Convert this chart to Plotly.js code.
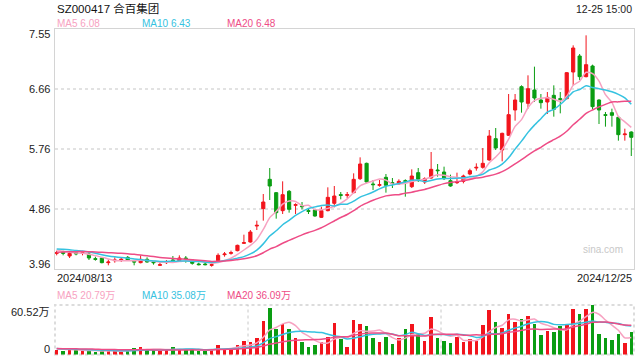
<!DOCTYPE html>
<html>
<head>
<meta charset="utf-8">
<script src="https://cdn.plot.ly/plotly-3.0.1.min.js"></script>
<style>html,body{margin:0;padding:0;background:#fff;}#chart{width:640px;height:360px;}</style>
</head>
<body>
<div id="chart"></div>
<script>
// ---- data ----
const titleText = "SZ000417 合百集团";
const timeText = "12-25 15:00";
const startDate = "2024/08/13";
const endDate = "2024/12/25";

const open = [4.19,4.21,4.15,4.22,4.19,4.18,4.11,4.12,4.05,4.08,
4.09,4.13,4.07,4.05,4.10,4.06,4.01,4.05,4.09,4.08,
4.12,4.09,4.03,4.03,4.01,4.08,4.17,4.19,4.23,4.34,
4.36,4.60,4.86,5.30,5.10,4.83,5.12,4.91,4.90,4.83,
4.84,4.73,4.83,4.94,5.07,5.06,5.10,5.31,5.54,5.23,
5.21,5.33,5.25,5.23,5.28,5.19,5.40,5.26,5.32,5.44,
5.41,5.28,5.25,5.27,5.38,5.47,5.48,5.59,5.91,5.74,
5.96,6.34,6.69,6.44,6.64,6.49,6.46,6.56,6.51,6.51,
6.91,7.15,6.84,7.00,6.49,6.27,6.30,6.23,5.97,6.01];
const high = [4.23,4.23,4.21,4.24,4.22,4.21,4.14,4.13,4.10,4.13,
4.13,4.15,4.08,4.16,4.13,4.07,4.05,4.09,4.15,4.16,
4.15,4.10,4.05,4.05,4.05,4.19,4.21,4.23,4.32,4.47,
4.54,4.68,5.08,5.47,5.11,5.27,5.14,4.94,4.96,4.87,
4.85,4.89,5.18,5.20,5.11,5.11,5.39,5.63,5.55,5.29,
5.29,5.38,5.32,5.30,5.30,5.45,5.47,5.33,5.71,5.53,
5.49,5.37,5.40,5.37,5.46,5.54,5.77,6.04,6.07,6.00,
6.58,6.58,6.71,6.86,6.99,6.58,6.61,6.71,6.61,6.91,
7.31,7.18,7.46,7.02,6.50,6.31,6.36,6.24,6.06,6.02];
const low = [4.16,4.16,4.12,4.16,4.16,4.09,4.08,4.04,4.01,4.05,
4.06,4.08,4.01,4.04,4.05,4.02,4.00,4.03,4.06,4.07,
4.05,4.02,4.01,4.01,3.99,4.07,4.14,4.17,4.22,4.33,
4.35,4.54,4.68,4.99,4.71,4.78,4.80,4.78,4.85,4.78,
4.74,4.72,4.82,4.88,5.00,5.02,5.09,5.29,5.24,5.14,
5.19,5.10,5.17,5.22,5.04,5.17,5.26,5.23,5.31,5.34,
5.29,5.19,5.23,5.24,5.36,5.43,5.46,5.58,5.74,5.57,
5.95,6.18,6.30,6.36,6.46,6.36,6.28,6.24,6.29,6.50,
6.71,6.79,6.83,6.35,6.13,6.09,6.09,5.88,5.88,5.65];
const close = [4.20,4.19,4.19,4.18,4.20,4.12,4.10,4.05,4.06,4.09,
4.10,4.09,4.06,4.10,4.06,4.05,4.02,4.06,4.08,4.12,
4.11,4.04,4.02,4.02,4.02,4.16,4.18,4.20,4.31,4.35,
4.51,4.61,4.96,5.20,4.80,5.07,4.85,4.92,4.89,4.82,
4.75,4.83,5.03,5.05,5.06,5.07,5.30,5.53,5.26,5.22,
5.22,5.21,5.24,5.27,5.27,5.35,5.30,5.31,5.45,5.43,
5.31,5.20,5.26,5.35,5.43,5.48,5.54,5.95,5.77,5.99,
6.27,6.49,6.46,6.66,6.52,6.45,6.53,6.35,6.50,6.90,
7.27,6.84,7.02,6.39,6.34,6.26,6.26,5.97,5.98,5.93];
// volume, in 万 shares
const volume = [6.1,4.1,6.1,4.9,4.1,5.8,2.8,4.5,4.9,4.5,
3.3,5.3,8.2,9.0,5.8,5.8,4.5,6.1,9.0,6.5,
6.1,6.1,4.5,4.5,7.0,11.4,7.0,7.4,11.9,16.3,
15.1,20.5,41.4,56.8,31.1,37.2,31.1,20.5,15.1,8.6,
11.4,14.7,20.9,38.7,18.8,9.0,42.1,37.2,34.7,20.0,
15.1,21.2,12.6,20.0,31.1,37.2,25.4,16.3,45.8,20.0,
16.3,13.9,21.2,15.1,18.8,16.3,36.0,54.4,39.7,32.3,
49.5,39.7,43.3,47.0,37.2,23.7,28.6,27.4,34.7,36.0,
55.6,49.5,55.6,60.52,24.9,20.5,17.6,24.5,13.9,27.0];
// sessions before the visible window (estimated from the MA lines' starting levels)
const prevClose = [4.12,4.15,4.14,4.17,4.16,4.18,4.15,4.17,4.19,4.18,4.22,4.26,4.30,4.28,4.27,4.29,4.26,4.24,4.22];
const prevVolume = [7.5,6.8,8.2,7.0,6.4,7.8,9.1,6.9,7.2,6.0,8.5,7.3,6.6,7.9,8.8,6.2,7.1,6.7,7.4];

const maPeriods = [5, 10, 20];
const maNames = ["MA5", "MA10", "MA20"];
const maPriceLabels = ["6.08", "6.43", "6.48"];
const maVolLabels = ["20.79万", "35.08万", "36.09万"];
const priceTickVals = [7.555, 6.655, 5.755, 4.855, 3.955];
const priceTickText = ["7.55", "6.66", "5.76", "4.86", "3.96"];
const volTickVals = [60.52, 0];
const volTickText = ["60.52万", "0"];
const watermark = "sina.com";

// ---- styles ----
const RED = "#f2141c", GREEN = "#0a9d12";
const MA_COLORS = ["#f7a2c1", "#35c2e0", "#ee4c86"];
const FONT = "Liberation Sans, Arial, Noto Sans CJK SC, sans-serif";

function movingAvg(series, prev, n) {
  const all = prev.concat(series);
  return series.map((_, i) => {
    const end = prev.length + i;
    let s = 0;
    for (let k = end - n + 1; k <= end; k++) s += all[k];
    return s / n;
  });
}

const idx = close.map((_, i) => i);
const volColors = close.map((c, i) => (c > open[i] ? RED : GREEN));
const xr = [-0.26, 89.42];

const traces = [];
traces.push({
  type: "candlestick", x: idx, open: open, high: high, low: low, close: close,
  xaxis: "x", yaxis: "y", whiskerwidth: 0, hoverinfo: "skip",
  increasing: {line: {color: RED, width: 1}, fillcolor: RED},
  decreasing: {line: {color: GREEN, width: 1}, fillcolor: GREEN}
});
maPeriods.forEach((p, k) => {
  traces.push({type: "scatter", mode: "lines", x: idx, y: movingAvg(close, prevClose, p),
    xaxis: "x", yaxis: "y", line: {color: MA_COLORS[k], width: 1.5, shape: "spline", smoothing: 0.6}, hoverinfo: "skip"});
});
traces.push({type: "bar", x: idx, y: volume, xaxis: "x2", yaxis: "y2", width: 0.55,
  marker: {color: volColors, line: {width: 0}}, hoverinfo: "skip"});
maPeriods.forEach((p, k) => {
  traces.push({type: "scatter", mode: "lines", x: idx, y: movingAvg(volume, prevVolume, p),
    xaxis: "x2", yaxis: "y2", line: {color: MA_COLORS[k], width: 1.5, shape: "spline", smoothing: 0.6}, hoverinfo: "skip"});
});

const H = 360, L = 55, W = 579;
const py = px => 1 - px / H;
const pxX = px => (px - L) / W;

const ann = [];
function txt(text, x, y, opts) {
  ann.push(Object.assign({text: text, x: x, y: y, xref: "paper", yref: "paper", showarrow: false,
    xanchor: "left", yanchor: "middle", font: {family: FONT, size: 11, color: "#222"}}, opts || {}));
}
txt(titleText, 0, py(8), {font: {family: FONT, size: 11.5, color: "#111"}});
txt(timeText, 1, py(8.5), {xanchor: "right", font: {family: FONT, size: 10.5, color: "#222"}});
const legX = [55, 140, 225];
maNames.forEach((n, k) => {
  txt(n + " " + maPriceLabels[k], pxX(legX[k]), py(24), {font: {family: FONT, size: 10, color: MA_COLORS[k]}});
  txt(n + " " + maVolLabels[k], pxX(legX[k]), py(295.5), {font: {family: FONT, size: 10, color: MA_COLORS[k]}});
});
priceTickVals.forEach((v, k) => {
  const shift = k === 0 ? -5 : (k === priceTickVals.length - 1 ? 5.5 : 0);
  ann.push({text: priceTickText[k], x: 0, xref: "paper", y: v, yref: "y", xanchor: "right", yanchor: "middle",
    xshift: -3, yshift: shift, showarrow: false, font: {family: FONT, size: 11, color: "#222"}});
});
volTickVals.forEach((v, k) => {
  const shift = k === 0 ? -6.5 : 6;
  ann.push({text: volTickText[k], x: 0, xref: "paper", y: v, yref: "y2", xanchor: "right", yanchor: "middle",
    xshift: -3, yshift: shift, showarrow: false, font: {family: FONT, size: 11, color: "#222"}});
});
txt(startDate, 0, py(278), {font: {family: FONT, size: 11, color: "#222"}});
txt(endDate, 1, py(278), {xanchor: "right", font: {family: FONT, size: 11, color: "#222"}});
txt(watermark, pxX(625), py(249), {xanchor: "right", font: {family: FONT, size: 10, color: "#c8c8c8"}});

const volDom = [1 - 354.5 / H, 1 - 305 / H];
const shapes = [
  {type: "rect", xref: "paper", yref: "paper", x0: 0, x1: 1, y0: volDom[0], y1: volDom[1],
    line: {color: "#dcdcdc", width: 2, dash: "dot"}, layer: "below"},
  {type: "line", xref: "paper", yref: "paper", x0: 1/3, x1: 1/3, y0: volDom[0], y1: volDom[1],
    line: {color: "#c8c8c8", width: 1, dash: "dot"}, layer: "below"},
  {type: "line", xref: "paper", yref: "paper", x0: 2/3, x1: 2/3, y0: volDom[0], y1: volDom[1],
    line: {color: "#c8c8c8", width: 1, dash: "dot"}, layer: "below"}
];

const layout = {
  width: 640, height: 360,
  margin: {l: L, r: 6, t: 0, b: 0, pad: 0},
  paper_bgcolor: "#fff", plot_bgcolor: "#fff", showlegend: false,
  font: {family: FONT, size: 11, color: "#222"},
  xaxis: {domain: [0, 1], range: xr, anchor: "y", showgrid: false, zeroline: false, showticklabels: false,
    ticks: "", rangeslider: {visible: false}, showline: true, mirror: true, linecolor: "#d4d4d4", linewidth: 1, fixedrange: true},
  yaxis: {domain: [1 - 269 / H, 1 - 29 / H], range: [3.955, 7.555], tickvals: priceTickVals, showticklabels: false,
    ticks: "", showgrid: true, gridcolor: "#e2e2e2", gridwidth: 2, griddash: "dot", zeroline: false,
    showline: true, mirror: true, linecolor: "#d4d4d4", linewidth: 1, fixedrange: true},
  xaxis2: {domain: [0, 1], range: xr, anchor: "y2", showgrid: false, zeroline: false, showticklabels: false,
    ticks: "", showline: false, fixedrange: true},
  yaxis2: {domain: volDom, range: [0, 60.52], showgrid: false, zeroline: false, showticklabels: false,
    ticks: "", showline: false, fixedrange: true},
  bargap: 0,
  shapes: shapes,
  annotations: ann
};

Plotly.newPlot("chart", traces, layout, {staticPlot: true, displayModeBar: false});
</script>
</body>
</html>
